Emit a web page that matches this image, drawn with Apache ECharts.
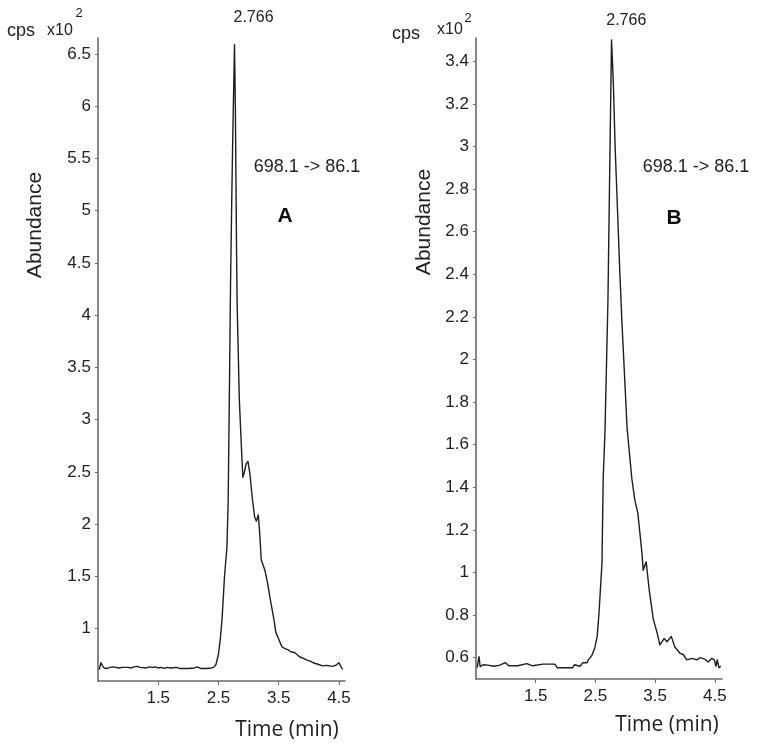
<!DOCTYPE html>
<html><head><meta charset="utf-8">
<script src="https://cdn.jsdelivr.net/npm/echarts@6/dist/echarts.min.js"></script>
<style>html,body{margin:0;padding:0;background:#fff}#c{width:759px;height:752px}</style>
</head><body><div id="c"></div>
<script>
// ---- Panel A data (time in min, abundance in cps x10^2) ----
const timeA = [0.52,0.55,0.57,0.6,0.65,0.7,0.75,0.8,0.85,0.9,1.0,1.05,1.1,1.15,1.2,1.3,1.35,1.4,1.45,1.5,1.55,1.6,1.65,1.7,1.8,1.85,1.9,2.0,2.1,2.15,2.2,2.3,2.38,2.42,2.46,2.50,2.53,2.56,2.60,2.64,2.66,2.68,2.70,2.72,2.74,2.766,2.78,2.79,2.80,2.81,2.846,2.89,2.905,2.93,2.96,2.99,3.02,3.065,3.10,3.13,3.16,3.18,3.21,3.27,3.31,3.36,3.42,3.45,3.485,3.55,3.60,3.65,3.70,3.77,3.85,3.90,3.97,4.02,4.07,4.15,4.23,4.30,4.40,4.46,4.50,4.53,4.56];
const abundA = [0.61,0.675,0.65,0.625,0.62,0.63,0.635,0.63,0.625,0.63,0.63,0.625,0.635,0.64,0.63,0.625,0.635,0.63,0.635,0.625,0.63,0.62,0.63,0.625,0.63,0.62,0.62,0.62,0.625,0.635,0.62,0.62,0.625,0.63,0.66,0.76,0.9,1.1,1.5,1.78,2.2,3.2,4.3,5.1,5.8,6.59,6.0,5.3,4.6,4.1,3.19,2.62,2.45,2.5,2.58,2.60,2.49,2.23,2.07,2.03,2.09,1.95,1.66,1.56,1.45,1.28,1.09,0.97,0.92,0.83,0.81,0.80,0.78,0.77,0.73,0.72,0.70,0.69,0.675,0.66,0.645,0.65,0.64,0.655,0.675,0.64,0.61];
// ---- Panel B data ----
const timeB = [0.52,0.55,0.57,0.62,0.7,0.8,0.9,0.99,1.05,1.2,1.35,1.45,1.62,1.82,1.86,2.0,2.12,2.15,2.24,2.29,2.36,2.38,2.44,2.49,2.53,2.56,2.61,2.63,2.66,2.71,2.74,2.77,2.80,2.83,2.87,2.91,2.945,3.03,3.11,3.16,3.21,3.28,3.30,3.35,3.40,3.47,3.53,3.58,3.65,3.70,3.77,3.83,3.92,3.97,4.03,4.12,4.20,4.25,4.33,4.39,4.45,4.49,4.52,4.54,4.57,4.60];
const abundB = [0.553,0.605,0.558,0.567,0.565,0.56,0.565,0.577,0.562,0.562,0.572,0.562,0.57,0.57,0.553,0.553,0.553,0.567,0.56,0.576,0.576,0.59,0.61,0.647,0.70,0.81,1.045,1.44,1.66,2.28,2.9,3.50,3.3,3.0,2.7,2.4,2.17,1.68,1.44,1.34,1.28,1.09,1.01,1.05,0.92,0.78,0.72,0.66,0.69,0.675,0.70,0.65,0.62,0.615,0.59,0.597,0.59,0.60,0.593,0.58,0.597,0.59,0.56,0.59,0.553,0.56];

const peakTime = 2.766;
const peakLabel = '2.766';
const transition = '698.1 -> 86.1';
const xTicks = [1.5, 2.5, 3.5, 4.5];
const yTicksA = [1, 1.5, 2, 2.5, 3, 3.5, 4, 4.5, 5, 5.5, 6, 6.5];
const yTicksB = [0.6, 0.8, 1, 1.2, 1.4, 1.6, 1.8, 2, 2.2, 2.4, 2.6, 2.8, 3, 3.2, 3.4];

const zip = (t, v) => t.map((x, i) => [x, v[i]]);
const FONT = "Arial, 'Liberation Sans', Helvetica, sans-serif";
const axisCol = '#6a6a6a';

function xAx(grid, max) {
  return {
    type: 'value', gridIndex: grid, min: 0.5, max: max,
    axisLine: { show: true, lineStyle: { color: axisCol, width: 1.6 } },
    axisTick: { show: true, customValues: xTicks, length: 4, lineStyle: { color: axisCol } },
    axisLabel: { customValues: xTicks, color: '#222', fontSize: 17, margin: 9, fontFamily: FONT },
    splitLine: { show: false }
  };
}
function yAx(grid, max, ticks) {
  return {
    type: 'value', gridIndex: grid, min: 0.5, max: max,
    axisLine: { show: true, lineStyle: { color: axisCol, width: 1.6 } },
    axisTick: { show: true, customValues: ticks, length: 3, lineStyle: { color: axisCol } },
    axisLabel: { customValues: ticks, color: '#222', fontSize: 17, margin: 7, fontFamily: FONT },
    splitLine: { show: false }
  };
}
function ser(i, t, v, off) {
  return {
    type: 'line', xAxisIndex: i, yAxisIndex: i, data: zip(t, v),
    showSymbol: false, smooth: false, silent: true,
    lineStyle: { color: '#1e1e1e', width: 1.4, join: 'round' },
    markPoint: {
      symbol: 'circle', symbolSize: 1, itemStyle: { color: 'rgba(0,0,0,0)' },
      label: { show: true, position: 'top', formatter: peakLabel, color: '#222', fontSize: 16, fontFamily: FONT, offset: off },
      data: [{ coord: [peakTime, Math.max(...v)] }]
    }
  };
}
function txt(text, x, y, size, opts) {
  return Object.assign({
    type: 'text', x: x, y: y, silent: true,
    style: { text: text, fill: '#222', font: size + 'px ' + FONT, align: 'center', verticalAlign: 'middle' }
  }, opts || {});
}

const chart = echarts.init(document.getElementById('c'), null, { renderer: 'canvas' });
chart.setOption({
  animation: false,
  backgroundColor: '#fff',
  grid: [
    { left: 98, top: 38, width: 247, height: 643 },
    { left: 476, top: 38, width: 246, height: 641 }
  ],
  xAxis: [xAx(0, 4.6), xAx(1, 4.62)],
  yAxis: [yAx(0, 6.653, yTicksA), yAx(1, 3.509, yTicksB)],
  series: [ser(0, timeA, abundA, [19, -13]), ser(1, timeB, abundB, [15, -6])],
  graphic: [
    txt('cps', 21, 31, 18),
    txt('x10', 60, 31, 16),
    txt('2', 79, 13, 13),
    txt('cps', 406, 34, 18),
    txt('x10', 450, 30, 16),
    txt('2', 468, 18, 13),
    txt(transition, 307, 167, 18),
    txt(transition, 696, 167, 18),
    { type: 'text', x: 285, y: 216, silent: true, style: { text: 'A', fill: '#111', font: 'bold 21px ' + FONT, align: 'center', verticalAlign: 'middle' } },
    { type: 'text', x: 674, y: 218, silent: true, style: { text: 'B', fill: '#111', font: 'bold 21px ' + FONT, align: 'center', verticalAlign: 'middle' } },
    txt('Abundance', 35, 225, 21, { rotation: Math.PI / 2 }),
    txt('Abundance', 424, 222, 21, { rotation: Math.PI / 2 }),
    { type: 'text', x: 287, y: 730, silent: true, style: { text: 'Time (min)', fill: '#222', font: "21px 'Open Sans', sans-serif", align: 'center', verticalAlign: 'middle' } },
    { type: 'text', x: 667, y: 725, silent: true, style: { text: 'Time (min)', fill: '#222', font: "21px 'Open Sans', sans-serif", align: 'center', verticalAlign: 'middle' } }
  ]
});
</script></body></html>
